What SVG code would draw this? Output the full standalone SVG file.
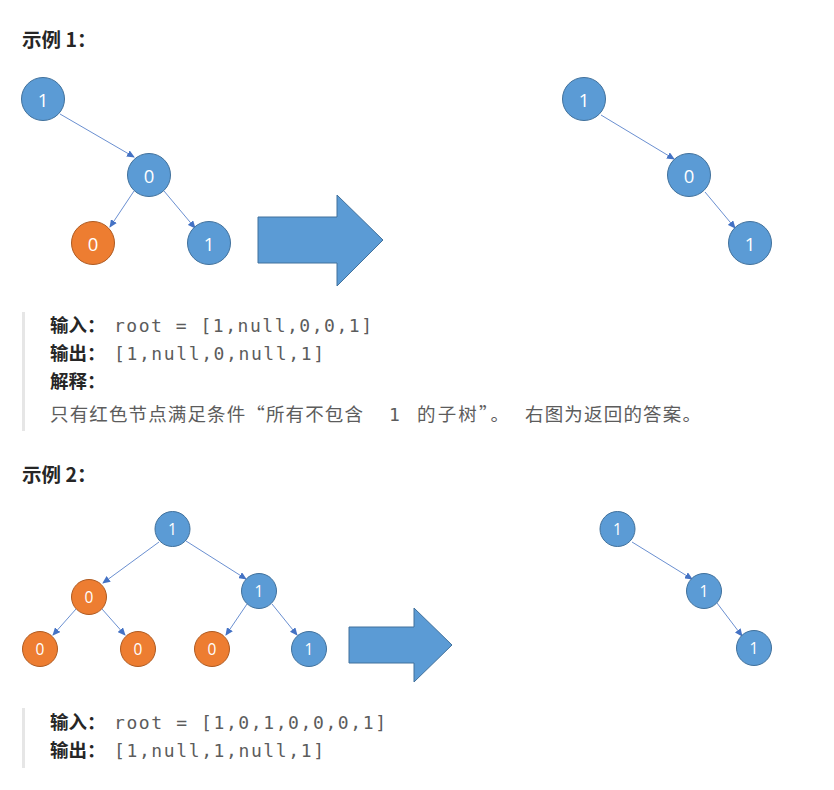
<svg xmlns="http://www.w3.org/2000/svg" width="834" height="790" viewBox="0 0 834 790">
<defs>
<style>
.bn{fill:#5B9BD5;stroke:#41719C;stroke-width:1}
.on{fill:#ED7D31;stroke:#AE5A21;stroke-width:1}
.lb1{fill:#fff;font-family:"Open Sans","Liberation Sans",sans-serif;font-size:18.5px;text-anchor:middle;dominant-baseline:central}
.lb2{fill:#fff;font-family:"Open Sans","Liberation Sans",sans-serif;font-size:15.5px;text-anchor:middle;dominant-baseline:central}
.edge{stroke:#4472C4;stroke-width:0.8;fill:none;marker-end:url(#ah)}
.big{fill:#5B9BD5;stroke:#41719C;stroke-width:1}
.h{font-family:"Noto Sans CJK SC","Liberation Sans",sans-serif;font-weight:bold;font-size:19.5px;fill:#262626}
.b{font-family:"Noto Sans CJK SC","Liberation Sans",sans-serif;font-weight:bold;font-size:18.5px;fill:#262626}
.t{font-family:"Noto Sans CJK SC","Liberation Sans",sans-serif;font-size:18.5px;fill:#5c5c5c}
.c{font-family:"DejaVu Sans Mono","Liberation Mono",monospace;font-size:18px;fill:#5c5c5c}
.bar{fill:#e6e6e6}
</style>
<marker id="ah" markerWidth="8" markerHeight="7" refX="7" refY="3.5" orient="auto" markerUnits="userSpaceOnUse">
<path d="M0,0 L8,3.5 L0,7 Z" fill="#4472C4"/>
</marker>
</defs>
<rect width="834" height="790" fill="#fff"/>

<text class="h" x="22" y="47">示例 1：</text>

<g id="connectors">
<line class="edge" x1="60" y1="114" x2="134" y2="157"/>
<line class="edge" x1="134" y1="191" x2="110" y2="227"/>
<line class="edge" x1="164" y1="191" x2="195" y2="228"/>
<line class="edge" x1="601" y1="115" x2="674" y2="159"/>
<line class="edge" x1="705" y1="192" x2="735" y2="228"/>
<line class="edge" x1="159" y1="542" x2="103" y2="583"/>
<line class="edge" x1="186" y1="541" x2="246" y2="579"/>
<line class="edge" x1="76" y1="609" x2="53" y2="635"/>
<line class="edge" x1="102" y1="609" x2="125" y2="635"/>
<line class="edge" x1="247" y1="604" x2="226" y2="635"/>
<line class="edge" x1="272" y1="604" x2="297" y2="635"/>
<line class="edge" x1="632" y1="542" x2="692" y2="579"/>
<line class="edge" x1="717" y1="603" x2="742" y2="636"/>
</g>

<g id="e1-a-1"><circle class="bn" cx="43" cy="99" r="21.5"/><text class="lb1" x="43" y="99">1</text></g>
<g id="e1-a-0"><circle class="bn" cx="149" cy="175" r="21.5"/><text class="lb1" x="149" y="175">0</text></g>
<g id="e1-a-0r"><circle class="on" cx="93" cy="243" r="21.5"/><text class="lb1" x="93" y="243">0</text></g>
<g id="e1-a-1b"><circle class="bn" cx="209" cy="243" r="21.5"/><text class="lb1" x="209" y="243">1</text></g>

<g id="e1-arrow"><polygon class="big" points="258,217 337,217 337,195 383,240 337,286 337,263 258,263"/></g>

<g id="e1-b-1"><circle class="bn" cx="584" cy="99" r="21.5"/><text class="lb1" x="584" y="99">1</text></g>
<g id="e1-b-0"><circle class="bn" cx="689" cy="175" r="21.5"/><text class="lb1" x="689" y="175">0</text></g>
<g id="e1-b-1b"><circle class="bn" cx="750" cy="243" r="21.5"/><text class="lb1" x="750" y="243">1</text></g>

<rect class="bar" x="22" y="312" width="3" height="119"/>
<text class="b" x="50" y="332">输入：</text>
<text class="c" x="114" y="332" textLength="258" lengthAdjust="spacing">root = [1,null,0,0,1]</text>
<text class="b" x="50" y="360">输出：</text>
<text class="c" x="114" y="360" textLength="210" lengthAdjust="spacing">[1,null,0,null,1]</text>
<text class="b" x="50" y="388">解释：</text>
<text class="t" x="50" y="421" textLength="313" lengthAdjust="spacing">只有红色节点满足条件“所有不包含</text>
<text class="c" x="389" y="421">1</text>
<text class="t" x="417" y="421" textLength="92" lengthAdjust="spacing">的子树”。</text>
<text class="t" x="525" y="421" textLength="176" lengthAdjust="spacing">右图为返回的答案。</text>

<text class="h" x="22" y="482">示例 2：</text>

<g id="e2-a-r"><circle class="bn" cx="172.5" cy="529" r="17.5"/><text class="lb2" x="172.5" y="529">1</text></g>
<g id="e2-a-l"><circle class="on" cx="89" cy="597" r="17.5"/><text class="lb2" x="89" y="597">0</text></g>
<g id="e2-a-rr"><circle class="bn" cx="259" cy="591" r="17.5"/><text class="lb2" x="259" y="591">1</text></g>
<g id="e2-a-ll"><circle class="on" cx="40" cy="649" r="17.5"/><text class="lb2" x="40" y="649">0</text></g>
<g id="e2-a-lr"><circle class="on" cx="138" cy="649" r="17.5"/><text class="lb2" x="138" y="649">0</text></g>
<g id="e2-a-rl"><circle class="on" cx="212" cy="649" r="17.5"/><text class="lb2" x="212" y="649">0</text></g>
<g id="e2-a-r3"><circle class="bn" cx="309" cy="649" r="17.5"/><text class="lb2" x="309" y="649">1</text></g>

<g id="e2-arrow"><polygon class="big" points="349,627 414,627 414,608 452,645 414,682 414,663 349,663"/></g>

<g id="e2-b-1"><circle class="bn" cx="617.5" cy="529" r="17.5"/><text class="lb2" x="617.5" y="529">1</text></g>
<g id="e2-b-2"><circle class="bn" cx="704" cy="591" r="17.5"/><text class="lb2" x="704" y="591">1</text></g>
<g id="e2-b-3"><circle class="bn" cx="754" cy="648" r="17.5"/><text class="lb2" x="754" y="648">1</text></g>

<rect class="bar" x="22" y="708" width="3" height="60"/>
<text class="b" x="50" y="729">输入：</text>
<text class="c" x="114" y="729" textLength="272" lengthAdjust="spacing">root = [1,0,1,0,0,0,1]</text>
<text class="b" x="50" y="757">输出：</text>
<text class="c" x="114" y="757" textLength="210" lengthAdjust="spacing">[1,null,1,null,1]</text>
</svg>
